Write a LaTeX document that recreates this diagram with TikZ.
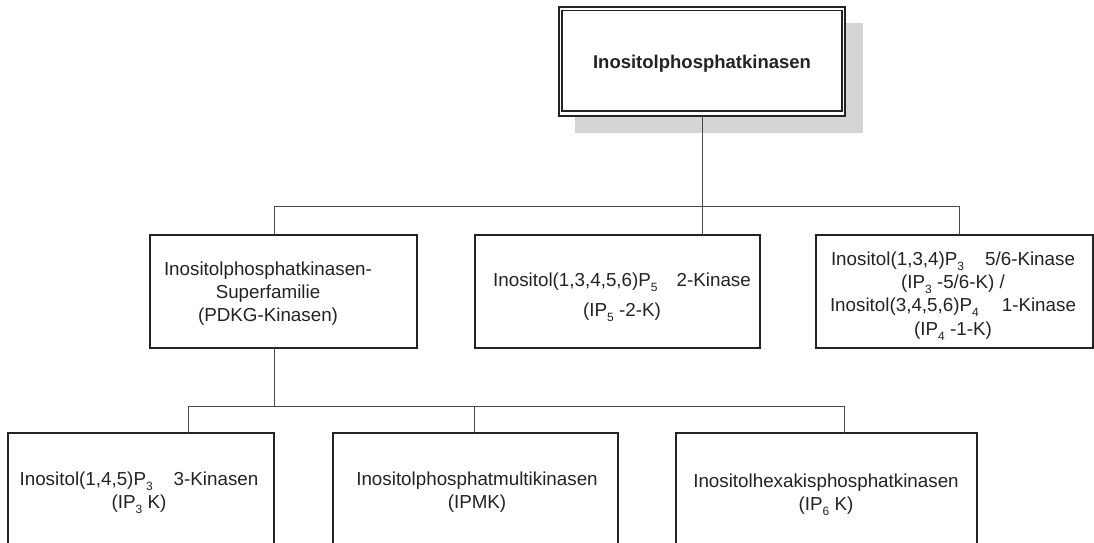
\documentclass[tikz,border=0pt]{standalone}
\usepackage{fontspec}
\setmainfont{Liberation Sans}
% lowered, smaller index digits
\newcommand\ix[1]{\raisebox{-5pt}{\fontsize{12}{12}\selectfont#1}}
\definecolor{shadowgray}{RGB}{212,213,215}
\definecolor{ink}{RGB}{35,35,35}
\begin{document}
\begin{tikzpicture}[x=1pt,y=-1pt,
  frame/.style={draw=ink, line width=1.1pt, fill=white, inner sep=0pt, outer sep=0pt},
  link/.style={draw=black!72, line width=0.9pt},
  label/.style={inner sep=0pt, align=center, anchor=north, text=ink,
                font=\fontsize{18.8}{23.3}\selectfont},
]
\useasboundingbox (0,0) rectangle (1094,542);
\clip (0,0) rectangle (1094,542);

% root box with drop shadow and double frame
\fill[shadowgray] (575,23) rectangle (863,133);
\node[frame, minimum width=286pt, minimum height=109pt] (root) at (702,61.5) {};
\draw[ink, line width=1.1pt] (562,10.5) rectangle (842,111);
\node[inner sep=0pt, anchor=base, text=ink,
      font=\fontsize{18.5}{22}\selectfont\bfseries] (rootlabel) at (702,68)
      {Inositolphosphatkinasen};

% second level
\node[frame, minimum width=267pt, minimum height=113pt] (fam)  at (283.5,291.5) {};
\node[frame, minimum width=285pt, minimum height=113pt] (ipk2) at (617.5,291.5) {};
\node[frame, minimum width=277pt, minimum height=113pt] (itpk) at (954.5,291.5) {};

\node[label] (famlabel) at (268,258.7)
  {\strut Inositolphosphatkinasen-\\Superfamilie\\(PDKG-Kinasen)};
\node[label] (ipk2label) at (622,269.7)
  {\strut Inositol(1,3,4,5,6)P\ix{5}\hspace{19pt}2-Kinase\\[6.5pt](IP\ix{5} -2-K)};
\node[label] (itpklabel) at (953,248.7)
  {\strut Inositol(1,3,4)P\ix{3}\hspace{21pt}5/6-Kinase\\(IP\ix{3} -5/6-K) /\\Inositol(3,4,5,6)P\ix{4}\hspace{23pt}1-Kinase\\(IP\ix{4} -1-K)};

% third level
\node[frame, minimum width=266pt, minimum height=127pt] (ip3k) at (141,496.5) {};
\node[frame, minimum width=285pt, minimum height=127pt] (ipmk) at (475.5,496.5) {};
\node[frame, minimum width=301pt, minimum height=127pt] (ip6k) at (826.5,496.5) {};

\node[label] (ip3klabel) at (139,468.7)
  {\strut Inositol(1,4,5)P\ix{3}\hspace{21pt}3-Kinasen\\(IP\ix{3} K)};
\node[label] (ipmklabel) at (477,468.7)
  {\strut Inositolphosphatmultikinasen\\(IPMK)};
\node[label] (ip6klabel) at (826,470.7)
  {\strut Inositolhexakisphosphatkinasen\\(IP\ix{6} K)};

% connectors: root to second level
\coordinate (busA) at (702,206);
\coordinate (dropfam)  at (274,206);
\coordinate (dropipk2) at (702,206);
\coordinate (dropitpk) at (959,206);
\draw[link] (root.south) -- (busA);
\draw[link] (dropfam) -- (dropitpk);
\draw[link] (dropfam)  -- (dropfam  |- fam.north);
\draw[link] (dropipk2) -- (dropipk2 |- ipk2.north);
\draw[link] (dropitpk) -- (dropitpk |- itpk.north);

% connectors: superfamily to third level
\coordinate (busB) at (274,406);
\coordinate (dropip3k) at (188,406);
\coordinate (dropipmk) at (474,406);
\coordinate (dropip6k) at (844,406);
\draw[link] (busB |- fam.south) -- (busB);
\draw[link] (dropip3k) -- (dropip6k);
\draw[link] (dropip3k) -- (dropip3k |- ip3k.north);
\draw[link] (dropipmk) -- (dropipmk |- ipmk.north);
\draw[link] (dropip6k) -- (dropip6k |- ip6k.north);
\end{tikzpicture}
\end{document}
